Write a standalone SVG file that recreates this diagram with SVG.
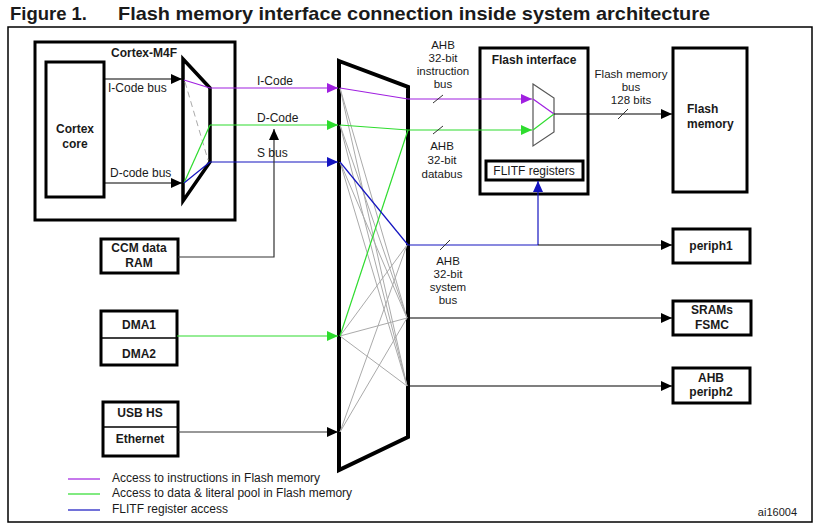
<svg xmlns="http://www.w3.org/2000/svg" width="826" height="531" viewBox="0 0 826 531">
<style>
text{font-family:"Liberation Sans",Arial,sans-serif;font-size:12px;fill:#1a1a1a}
.b{font-weight:bold}
.m{text-anchor:middle}
.s{font-size:11.5px}
.box{fill:#fff;stroke:#000;stroke-width:3}
.thin{fill:none;stroke:#000;stroke-width:1}
.pu{fill:none;stroke:#a020e0;stroke-width:1.2}
.gr{fill:none;stroke:#2edc2e;stroke-width:1.2}
.bl{fill:none;stroke:#1414c0;stroke-width:1.2}
.bk{fill:none;stroke:#000;stroke-width:1.2}
.dk{fill:none;stroke:#333;stroke-width:1.2}
.gy{fill:none;stroke:#aaa;stroke-width:1}
.sl{fill:none;stroke:#333;stroke-width:1}
</style>
<defs>
<marker id="aPu" markerUnits="userSpaceOnUse" markerWidth="11" markerHeight="10" refX="11" refY="5" orient="auto"><path d="M0,0 L11,5 L0,10 z" fill="#a020e0"/></marker>
<marker id="aGr" markerUnits="userSpaceOnUse" markerWidth="11" markerHeight="10" refX="11" refY="5" orient="auto"><path d="M0,0 L11,5 L0,10 z" fill="#2edc2e"/></marker>
<marker id="aBl" markerUnits="userSpaceOnUse" markerWidth="11" markerHeight="10" refX="11" refY="5" orient="auto"><path d="M0,0 L11,5 L0,10 z" fill="#1414c0"/></marker>
<marker id="aBk" markerUnits="userSpaceOnUse" markerWidth="11" markerHeight="10" refX="11" refY="5" orient="auto"><path d="M0,0 L11,5 L0,10 z" fill="#000"/></marker>
</defs>
<rect width="826" height="531" fill="#fff"/>

<g id="title">
<text x="10" y="20" class="b" style="font-size:19px" textLength="77" lengthAdjust="spacingAndGlyphs">Figure 1.</text>
<text x="118" y="20" class="b" style="font-size:19px" textLength="592" lengthAdjust="spacingAndGlyphs">Flash memory interface connection inside system architecture</text>
</g>
<rect id="frame" x="8" y="27" width="804" height="495" fill="none" stroke="#000" stroke-width="1.5"/>

<g id="cortex-m4f">
<rect x="35" y="42" width="200" height="178" class="box"/>
<text x="144" y="57" class="b m">Cortex-M4F</text>
</g>
<g id="cortex-core">
<rect x="46" y="62" width="58" height="135" class="box"/>
<text x="75" y="133" class="b m">Cortex</text>
<text x="75" y="148" class="b m">core</text>
</g>
<g id="cortex-mux">
<polygon points="183,59 210,88 210,162 183,201" fill="#fff" stroke="#000" stroke-width="3.5"/>
</g>
<g id="ccm">
<rect x="101" y="239" width="77" height="34" class="box"/>
<text x="139" y="252" class="b m">CCM data</text>
<text x="139" y="267" class="b m">RAM</text>
</g>
<g id="dma">
<rect x="101" y="311" width="76" height="54" class="box"/>
<line x1="101" y1="338" x2="177" y2="338" stroke="#000" stroke-width="1.5"/>
<text x="139" y="329" class="b m">DMA1</text>
<text x="139" y="358" class="b m">DMA2</text>
</g>
<g id="usb-eth">
<rect x="103" y="402" width="75" height="54" class="box"/>
<line x1="103" y1="427" x2="178" y2="427" stroke="#000" stroke-width="1.5"/>
<text x="140" y="417" class="b m">USB HS</text>
<text x="140" y="443" class="b m">Ethernet</text>
</g>
<g id="bus-matrix">
<polygon points="339,61 408,87 408,437 339,470" fill="#fff" stroke="#000" stroke-width="4"/>
</g>
<g id="flash-interface">
<rect x="480" y="48" width="108" height="146" class="box"/>
<text x="534" y="64" class="b m">Flash interface</text>
<polygon points="533,84 554,98 554,132 533,146" fill="#fff" stroke="#555" stroke-width="1.2"/>
</g>
<g id="flitf">
<rect x="486" y="161" width="97" height="19" class="box"/>
<text x="534" y="175" class="m">FLITF registers</text>
</g>
<g id="flash-memory">
<rect x="673" y="48" width="74" height="144" class="box"/>
<text x="687" y="113" class="b">Flash</text>
<text x="687" y="128" class="b">memory</text>
</g>
<g id="periph1">
<rect x="673" y="229" width="77" height="34" class="box"/>
<text x="711" y="250" class="b m">periph1</text>
</g>
<g id="srams">
<rect x="673" y="301" width="78" height="34" class="box"/>
<text x="712" y="314" class="b m">SRAMs</text>
<text x="712" y="329" class="b m">FSMC</text>
</g>
<g id="periph2">
<rect x="673" y="368" width="77" height="35" class="box"/>
<text x="711" y="382" class="b m">AHB</text>
<text x="711" y="396" class="b m">periph2</text>
</g>

<g id="connectors">
<line x1="104" y1="79" x2="182" y2="79" class="bk" marker-end="url(#aBk)"/>
<line x1="104" y1="183" x2="182" y2="183" class="bk" marker-end="url(#aBk)"/>
<line x1="184" y1="80" x2="210" y2="88" class="pu"/>
<line x1="185" y1="82" x2="208" y2="160" class="gy" stroke-dasharray="6,4"/>
<line x1="184" y1="183" x2="210" y2="125" class="gr"/>
<line x1="184" y1="183" x2="210" y2="162" class="bl"/>
<line x1="210" y1="88" x2="338" y2="88" class="pu" marker-end="url(#aPu)"/>
<line x1="210" y1="125" x2="338" y2="125" class="gr" marker-end="url(#aGr)"/>
<line x1="210" y1="162" x2="338" y2="162" class="bl" marker-end="url(#aBl)"/>
<polyline points="178,257 274,257 274,129" class="dk" marker-end="url(#aBk)"/>
<line x1="177" y1="336" x2="338" y2="336" class="gr" marker-end="url(#aGr)"/>
<line x1="178" y1="432" x2="338" y2="432" class="dk" marker-end="url(#aBk)"/>
<line x1="340" y1="88" x2="407" y2="318" class="gy"/>
<line x1="340" y1="88" x2="407" y2="386" class="gy"/>
<line x1="340" y1="125" x2="407" y2="318" class="gy"/>
<line x1="340" y1="125" x2="407" y2="386" class="gy"/>
<line x1="340" y1="162" x2="407" y2="318" class="gy"/>
<line x1="340" y1="162" x2="407" y2="386" class="gy"/>
<line x1="340" y1="336" x2="407" y2="245" class="gy"/>
<line x1="340" y1="336" x2="407" y2="318" class="gy"/>
<line x1="340" y1="336" x2="407" y2="386" class="gy"/>
<line x1="340" y1="432" x2="407" y2="245" class="gy"/>
<line x1="340" y1="432" x2="407" y2="318" class="gy"/>
<line x1="340" y1="88" x2="408" y2="99" class="pu"/>
<line x1="340" y1="125" x2="408" y2="130" class="gr"/>
<line x1="340" y1="336" x2="408" y2="130" class="gr"/>
<line x1="340" y1="162" x2="408" y2="245" class="bl"/>
<line x1="408" y1="99" x2="532" y2="99" class="pu" marker-end="url(#aPu)"/>
<line x1="408" y1="130" x2="532" y2="130" class="gr" marker-end="url(#aGr)"/>
<line x1="533" y1="99" x2="554" y2="114" class="pu"/>
<line x1="533" y1="130" x2="554" y2="114" class="gr"/>
<line x1="554" y1="114" x2="672" y2="114" class="bk" marker-end="url(#aBk)"/>
<line x1="408" y1="245" x2="538" y2="245" class="bl"/>
<line x1="538" y1="245" x2="538" y2="181" class="bl" marker-end="url(#aBl)"/>
<line x1="538" y1="245" x2="672" y2="245" class="bk" marker-end="url(#aBk)"/>
<line x1="408" y1="318" x2="672" y2="318" class="bk" marker-end="url(#aBk)"/>
<line x1="408" y1="386" x2="672" y2="386" class="bk" marker-end="url(#aBk)"/>
<line x1="433" y1="103" x2="443" y2="95" class="sl"/>
<line x1="433" y1="134" x2="443" y2="126" class="sl"/>
<line x1="618" y1="119" x2="628" y2="109" class="sl"/>
<line x1="440" y1="250" x2="450" y2="240" class="sl"/>
</g>

<g id="labels">
<text x="108" y="92">I-Code bus</text>
<text x="110" y="177">D-code bus</text>
<text x="257" y="85">I-Code</text>
<text x="257" y="122">D-Code</text>
<text x="257" y="157">S bus</text>
<text x="443" y="49" class="m s">AHB</text>
<text x="443" y="62" class="m s">32-bit</text>
<text x="443" y="75" class="m s">instruction</text>
<text x="443" y="88" class="m s">bus</text>
<text x="442" y="150" class="m s">AHB</text>
<text x="442" y="164" class="m s">32-bit</text>
<text x="442" y="178" class="m s">databus</text>
<text x="631" y="78" class="m s">Flash memory</text>
<text x="631" y="91" class="m s">bus</text>
<text x="631" y="104" class="m s">128 bits</text>
<text x="448" y="265" class="m s">AHB</text>
<text x="448" y="278" class="m s">32-bit</text>
<text x="448" y="291" class="m s">system</text>
<text x="448" y="304" class="m s">bus</text>
</g>

<g id="legend">
<line x1="68" y1="479" x2="100" y2="479" class="pu"/>
<line x1="68" y1="494" x2="100" y2="494" class="gr"/>
<line x1="68" y1="510" x2="100" y2="510" class="bl"/>
<text x="112" y="482">Access to instructions in Flash memory</text>
<text x="112" y="497">Access to data &amp; literal pool in Flash memory</text>
<text x="112" y="513">FLITF register access</text>
</g>
<text x="797" y="516" style="font-size:11px;text-anchor:end">ai16004</text>
</svg>
